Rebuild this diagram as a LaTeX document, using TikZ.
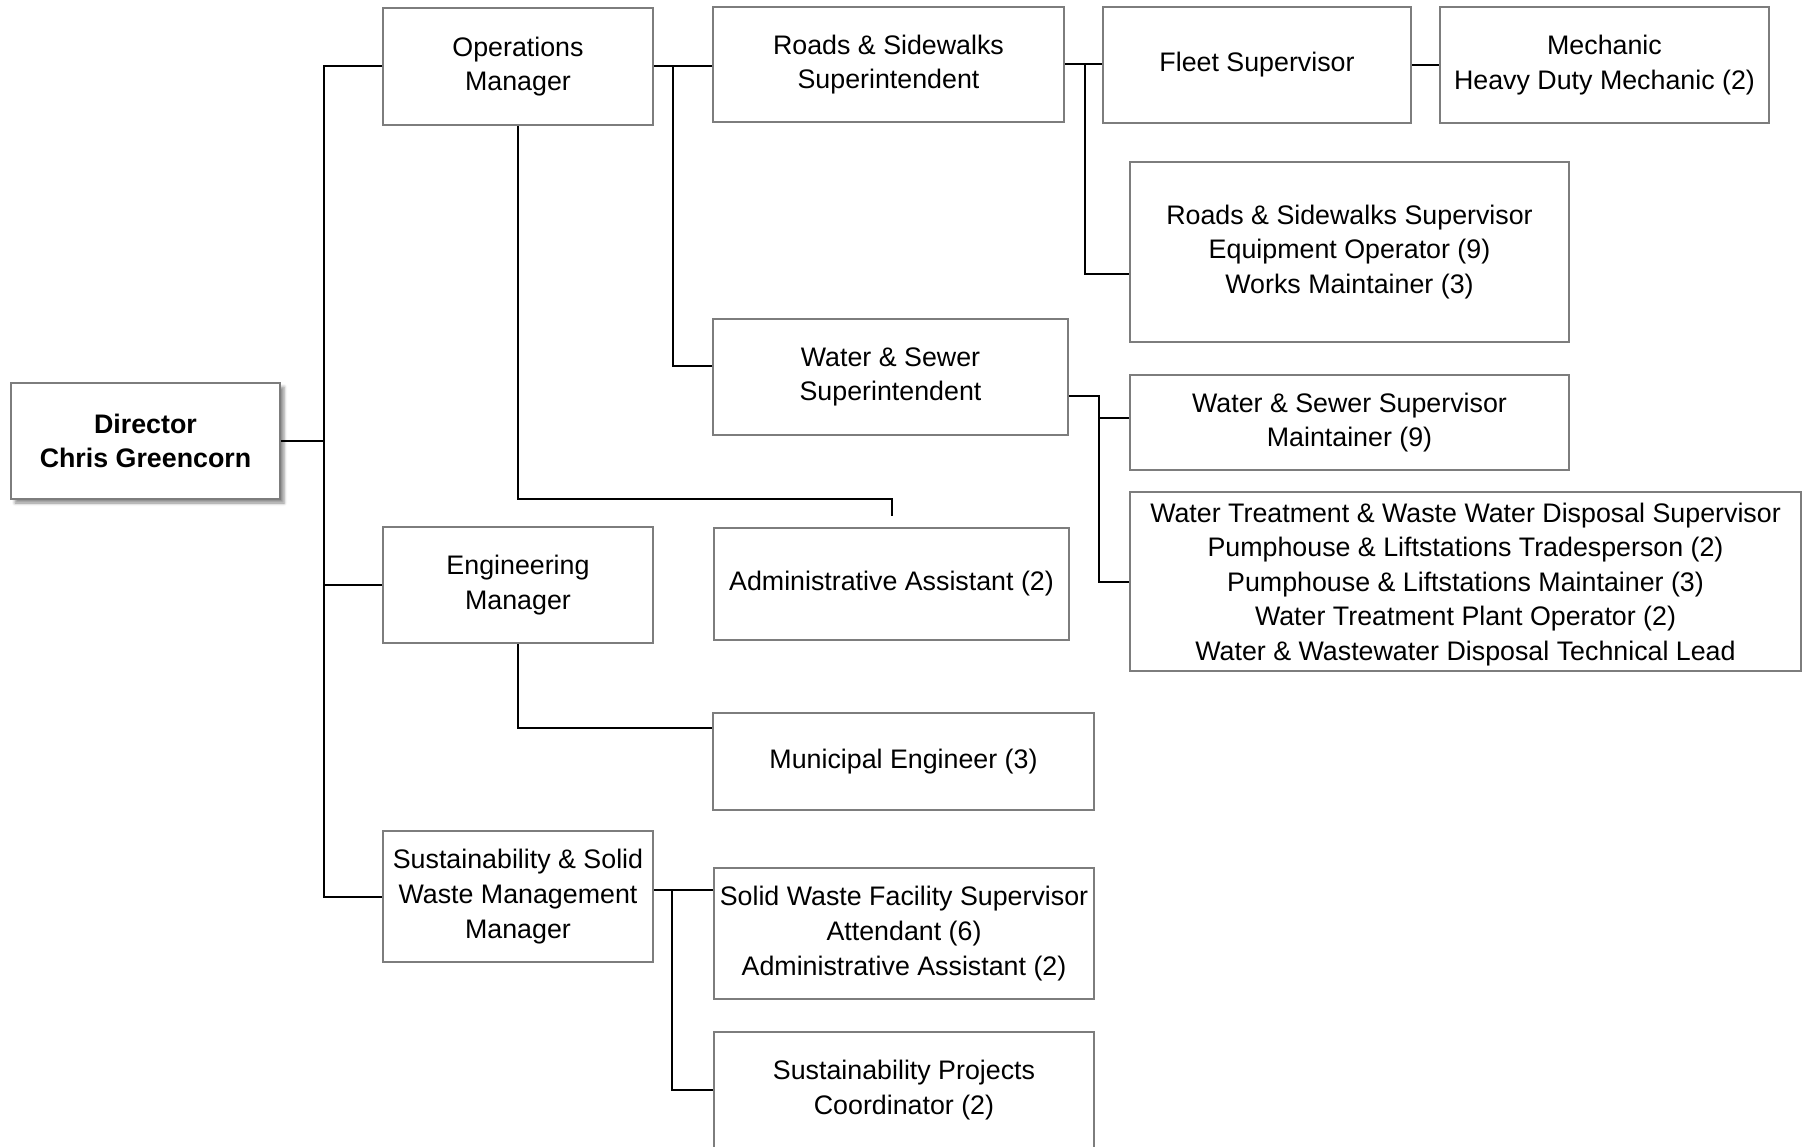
\documentclass[tikz,border=0pt]{standalone}
\usepackage{fontspec}
\setmainfont{Liberation Sans}
\usetikzlibrary{shadows.blur}
\definecolor{boxgray}{RGB}{125,125,125}
\begin{document}
\begin{tikzpicture}[x=1pt,y=-1pt,
  box/.style={draw=boxgray, line width=2pt, fill=white, align=center, inner sep=0pt,
    font=\fontsize{26.8}{34.6}\selectfont},
  link/.style={draw=black, line width=2pt}]
\useasboundingbox (0,0) rectangle (1807,1147);
\clip (0,0) rectangle (1807,1147);

% nodes
\node[box, minimum width=269pt, minimum height=116pt,
  blur shadow={shadow xshift=4pt, shadow yshift=-4pt, shadow blur radius=3pt, shadow opacity=45}]
  (dir) at (145.5,441) {\textbf{Director}\\\textbf{Chris Greencorn}};
\node[box, minimum width=270pt, minimum height=117pt] (ops) at (518,66.5) {Operations\\Manager};
\node[box, minimum width=270pt, minimum height=116pt] (eng) at (518,585) {Engineering\\Manager};
\node[box, minimum width=270pt, minimum height=131pt] (ssw) at (518,896.5) {Sustainability \& Solid\\Waste Management\\Manager};
\node[box, minimum width=351pt, minimum height=115pt] (rss) at (888.5,64.5) {Roads \& Sidewalks\\Superintendent};
\node[box, minimum width=355pt, minimum height=116pt] (wss) at (890.5,377) {Water \& Sewer\\Superintendent};
\node[box, minimum width=355pt, minimum height=112pt] (adm) at (891.5,584) {Administrative Assistant (2)};
\node[box, minimum width=381pt, minimum height=97pt] (mun) at (903.5,761.5) {Municipal Engineer (3)};
\node[box, minimum width=380pt, minimum height=131pt] (swf) at (904,933.5) {Solid Waste Facility Supervisor\\Attendant (6)\\Administrative Assistant (2)};
\node[box, minimum width=380pt, minimum height=116pt] (spc) at (904,1090) {Sustainability Projects\\Coordinator (2)};
\node[box, minimum width=308pt, minimum height=116pt] (fleet) at (1257,65) {Fleet Supervisor};
\node[box, minimum width=329pt, minimum height=116pt] (mech) at (1604.5,65) {Mechanic\\Heavy Duty Mechanic (2)};
\node[box, minimum width=439pt, minimum height=180pt] (rsup) at (1349.5,252) {Roads \& Sidewalks Supervisor\\Equipment Operator (9)\\Works Maintainer (3)};
\node[box, minimum width=439pt, minimum height=95pt] (wsup) at (1349.5,422.5) {Water \& Sewer Supervisor\\Maintainer (9)};
\node[box, minimum width=671pt, minimum height=179pt] (wt) at (1465.5,581.5) {\rule{0pt}{25pt}Water Treatment \& Waste Water Disposal Supervisor\\Pumphouse \& Liftstations Tradesperson (2)\\Pumphouse \& Liftstations Maintainer (3)\\Water Treatment Plant Operator (2)\\Water \& Wastewater Disposal Technical Lead};

% bus coordinates
\coordinate (trunk) at (324,0);
\coordinate (b1) at (673,0);
\coordinate (b2) at (1085,0);
\coordinate (b3) at (1099,0);
\coordinate (b4) at (672,0);

% connectors
\draw[link] (dir.east) -- (dir.east -| trunk);
\draw[link] (ops.west) -- (ops.west -| trunk) -- (ssw.west -| trunk) -- (ssw.west);
\draw[link] (eng.west) -- (eng.west -| trunk);

\draw[link] (ops.east) -- (rss.west |- ops.east);
\draw[link] (ops.east -| b1) |- (wss.west |- 0,366);
\draw[link] (ops.south) |- ([yshift=28pt]adm.north) -- ([yshift=11pt]adm.north);

\draw[link] (eng.south) |- (mun.west |- 0,728);

\draw[link] (ssw.east |- 0,890) -- (swf.west |- 0,890);
\draw[link] (b4 |- 0,890) |- (spc.west);

\draw[link] (rss.east) -- (fleet.west |- rss.east);
\draw[link] (rss.east -| b2) |- (rsup.west |- 0,274);
\draw[link] (fleet.east) -- (mech.west);

\draw[link] (wss.east |- 0,396) -- (b3 |- 0,396) |- (wt.west);
\draw[link] (b3 |- 0,418) -- (wsup.west |- 0,418);
\end{tikzpicture}
\end{document}
